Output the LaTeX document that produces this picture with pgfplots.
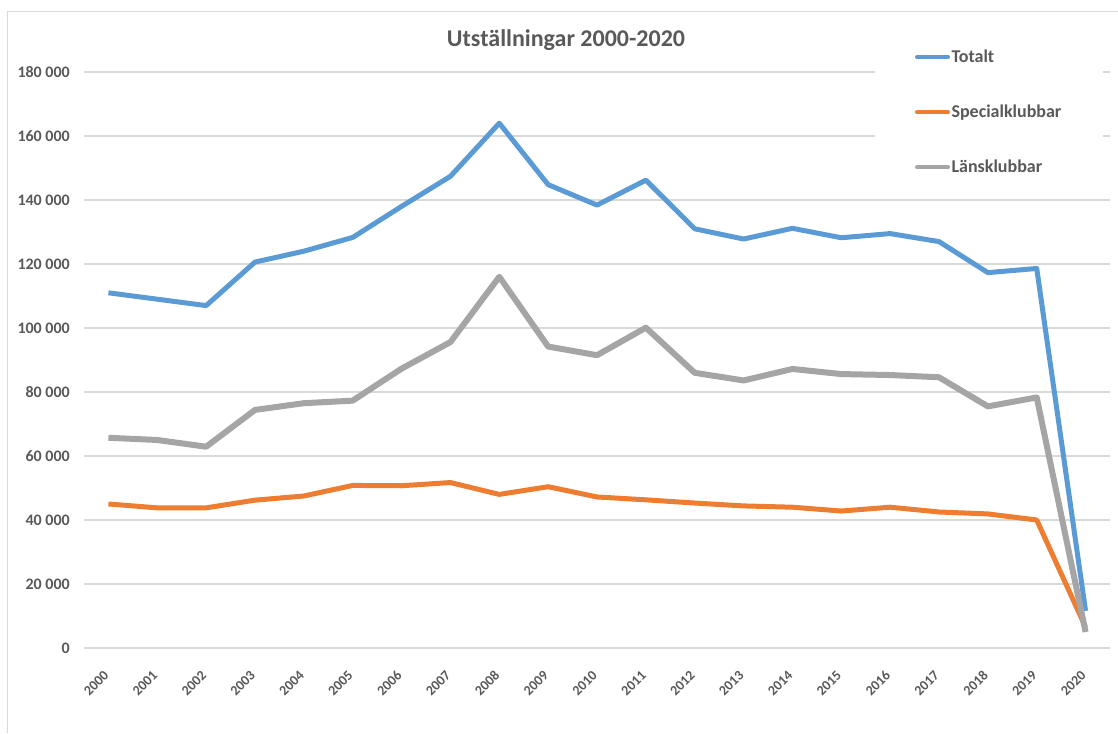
\documentclass[border=0pt]{standalone}
\usepackage{pgfplots}
\pgfplotsset{compat=1.18}
\usepackage{fontspec}
\setmainfont{Carlito}
\definecolor{cBlue}{HTML}{5B9BD5}
\definecolor{cOrange}{HTML}{ED7D31}
\definecolor{cGray}{HTML}{A5A5A5}
\definecolor{cText}{HTML}{595959}
\definecolor{cGrid}{HTML}{D9D9D9}
\begin{document}
\begin{tikzpicture}[x=1pt,y=1pt]
\useasboundingbox (0,0) rectangle (1118,733);
\begin{axis}[
  at={(84pt,85pt)}, anchor=south west,
  scale only axis, width=1026pt, height=576pt,
  xmin=-0.5, xmax=20.5, ymin=0, ymax=180000,
  scaled y ticks=false,
  xtick={0,...,20},
  xticklabels={2000,2001,2002,2003,2004,2005,2006,2007,2008,2009,2010,2011,2012,2013,2014,2015,2016,2017,2018,2019,2020},
  ytick={0,20000,40000,60000,80000,100000,120000,140000,160000,180000},
  yticklabels={0,20 000,40 000,60 000,80 000,100 000,120 000,140 000,160 000,180 000},
  axis line style={draw=none},
  major tick length=0pt,
  ymajorgrids, grid style={cGrid, line width=1.3pt},
  yticklabel style={font=\fontsize{16}{18}\selectfont\bfseries, text=cText, anchor=east, inner sep=0pt, xshift=-14pt},
  xticklabel style={font=\fontsize{14}{16}\selectfont\bfseries, text=cText, rotate=45, anchor=east, inner sep=0pt, xshift=-19.3pt, yshift=-16.3pt},
  title={Utställningar 2000-2020},
  title style={at={(rel axis cs:0.4698,1.0335)}, anchor=base, font=\fontsize{24}{27}\selectfont\bfseries, text=cText},
  legend style={draw=none, fill=white, at={(rel axis cs:0.9932,1.0514)}, anchor=north east,
    inner xsep=40pt, inner ysep=6pt, row sep=38pt,
    nodes={inner sep=1.5pt, anchor=west, font=\fontsize{18}{20}\selectfont\bfseries, text=cText}},
  legend cell align=left,
  legend image code/.code={\draw[#1, line width=4pt, line cap=round] (0pt,0pt) -- (31pt,0pt);},
  line join=round,
]
\addplot[cBlue, line width=5pt] coordinates {
(0,111000) (1,109000) (2,107000) (3,120600) (4,124000) (5,128300) (6,138000) (7,147400)
(8,164000) (9,144800) (10,138400) (11,146200) (12,131000) (13,127800) (14,131150)
(15,128200) (16,129500) (17,127000) (18,117300) (19,118600) (20,11600)};
\addlegendentry{Totalt}
\addplot[cOrange, line width=5pt] coordinates {
(0,45000) (1,43800) (2,43800) (3,46200) (4,47500) (5,50800) (6,50700) (7,51700)
(8,48000) (9,50400) (10,47200) (11,46300) (12,45300) (13,44400) (14,44000)
(15,42800) (16,44000) (17,42500) (18,41900) (19,40000) (20,6500)};
\addlegendentry{Specialklubbar}
\addplot[cGray, line width=6pt] coordinates {
(0,65700) (1,65000) (2,62900) (3,74400) (4,76500) (5,77300) (6,87300) (7,95600)
(8,116000) (9,94200) (10,91500) (11,100100) (12,86000) (13,83600) (14,87200)
(15,85600) (16,85300) (17,84600) (18,75500) (19,78300) (20,5000)};
\addlegendentry{Länsklubbar}
\end{axis}
\draw[cGrid, line width=1pt] (7,0) -- (7,721) -- (1118,721);
\end{tikzpicture}
\end{document}
